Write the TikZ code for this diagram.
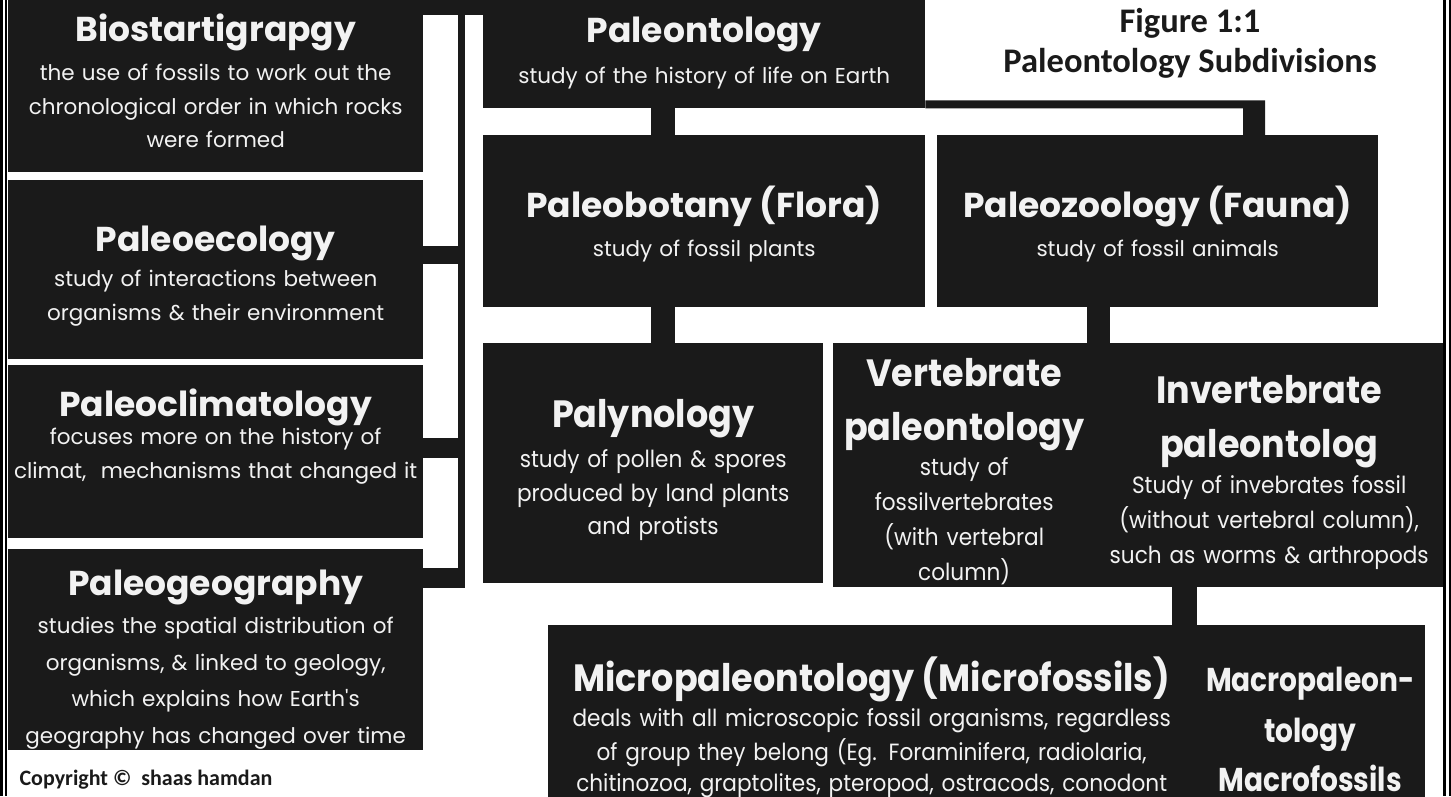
\documentclass[tikz,border=0pt]{standalone}
\usepackage{fontspec}
\newfontfamily\gothic{Poppins}
\newfontfamily\gothicnarrow[FakeStretch=0.92]{Poppins}
\newfontfamily\gothictight[FakeStretch=0.85]{Poppins}
\newfontfamily\calibri{Carlito}
\newcommand{\headfont}{\gothic\bfseries\fontsize{34.5}{38}\selectfont}
\newcommand{\bodyfont}{\gothic\fontsize{21.5}{33.5}\selectfont}
\newcommand{\narrowhead}{\gothicnarrow\bfseries\fontsize{38}{40}\selectfont}
\newcommand{\narrowbody}{\gothicnarrow\fontsize{23.5}{33.5}\selectfont}
\newcommand{\macrofont}{\gothictight\bfseries\fontsize{33}{38}\selectfont}
\definecolor{boxblack}{RGB}{26,26,26}
\definecolor{boxtext}{RGB}{242,242,242}

\begin{document}
\begin{tikzpicture}[x=1pt,y=-1pt,
        cell/.style={fill=boxblack,text=boxtext,align=center,anchor=north west,inner sep=0pt,font=\bodyfont},
        tall/.style={cell,font=\narrowbody},
        bar/.style={draw=boxblack}]
        \useasboundingbox (0,0) rectangle (1451,796);
        % left column
        \node[cell,text width=415,text height=41pt,text depth=131pt] (bio) at (8,0) {{\headfont Biostartigrapgy}\\[6pt]the use of fossils to work out the\\chronological order in which rocks\\were formed};
        \node[cell,text width=415,text height=71pt,text depth=108pt] (eco) at (8,180) {{\headfont Paleoecology}\\[2pt]study of interactions between\\organisms \& their environment};
        \node[cell,text width=415,text height=51pt,text depth=122pt] (clim) at (8,365) {{\headfont Paleoclimatology}\\[-5pt]focuses more on the history of\\climat,\ \ mechanisms that changed it};
        \node[cell,text width=415,text height=46pt,text depth=155pt] (geo) at (8,549) {{\headfont Paleogeography}\\[5pt]studies the spatial distribution of\\[3pt]organisms, \& linked to geology,\\[3pt]which explains how Earth's\\[3pt]geography has changed over time};
        % main tree
        \node[cell,text width=442,text height=42pt,text depth=66pt] (pal) at (483,0) {{\headfont Paleontology}\\[8pt]study of the history of life on Earth};
        \node[cell,text width=442,text height=82pt,text depth=90pt] (bot) at (483,135) {{\headfont Paleobotany (Flora)}\\[6pt]study of fossil plants};
        \node[cell,text width=441,text height=82pt,text depth=90pt] (zoo) at (937,135) {{\headfont Paleozoology (Fauna)}\\[6pt]study of fossil animals};
        \node[tall,text width=340,text height=84pt,text depth=156pt] (pyn) at (483,343) {{\narrowhead Palynology}\\[7pt]study of pollen \& spores\\produced by land plants\\and protists};
        \node[tall,text width=262,text height=43pt,text depth=201pt] (vert) at (833,343) {{\narrowhead Vertebrate\\[21pt]paleontology}\\[1pt]study of\\[1.5pt]fossilvertebrates\\[1.5pt](with vertebral\\[1.5pt]column)};
        \node[tall,text width=348,text height=60pt,text depth=184pt] (inv) at (1095,343) {{\narrowhead Invertebrate\\[21pt]paleontolog}\\[2pt]Study of invebrates fossil\\[1.5pt](without vertebral column),\\[1.5pt]such as worms \& arthropods};
        \node[tall,text width=647,text height=66pt,text depth=145pt] (micro) at (548,625) {{\narrowhead Micropaleontology (Microfossils)}\\[2pt]deals with all microscopic fossil organisms, regardless\\of group they belong (Eg. Foraminifera, radiolaria,\\[-2pt]chitinozoa, graptolites, pteropod, ostracods, conodont};
        \node[tall,text width=230,text height=66pt,text depth=145pt] (macro) at (1195,625) {{\macrofont Macropaleon-\\[13pt]tology\\[13pt]Macrofossils}};
        % titles
        \node[font=\calibri\bfseries\fontsize{34.5}{40}\selectfont,text=boxblack,align=center] (fig) at (1190,43) {Figure 1:1\\Paleontology Subdivisions};
        \node[font=\calibri\bfseries\fontsize{22}{24}\selectfont,text=boxblack] (copy) at (146,780) {Copyright ©\ \ shaas hamdan};
        % spine on the left
        \coordinate (spine) at (461.5,0);
        \path ([yshift=-39]geo.north -| spine) coordinate (spineend);
        \path ([yshift=-74.5]eco.north east) coordinate (ecolink);
        \path ([yshift=-83]clim.north east) coordinate (climlink);
        \path ([yshift=-29]geo.north east) coordinate (geolink);
        \draw[bar,line width=15] ([yshift=-7.5]bio.north east) -- ([yshift=-7.5]pal.north west);
        \draw[bar,line width=7] (spine) -- (spineend);
        \draw[bar,line width=18] (ecolink) -- (ecolink -| spine);
        \draw[bar,line width=20] (climlink) -- (climlink -| spine);
        \draw[bar,line width=20] (geolink) -- (geolink -| spine);
        % links of the tree
        \draw[bar,line width=24] ([xshift=-41]pal.south) -- ([xshift=-41]bot.north);
        \fill[boxblack] ([yshift=8]pal.south east) -| ([xshift=107.5]zoo.north) -| ([xshift=85.5]zoo.north) |- (pal.south east) -- cycle;
        \draw[bar,line width=24] ([xshift=-41]bot.south) -- ([xshift=10]pyn.north);
        \draw[bar,line width=23] ([xshift=-59]zoo.south) -- ([xshift=-170.5]inv.north);
        \draw[bar,line width=25] ([xshift=-84.5]inv.south) -- ([xshift=-125.5]macro.north);
        % frame
        \draw[black,line width=2.5] (1.25,0) -- (1.25,796);
        \draw[black,line width=2.5] (5.75,0) -- (5.75,796);
        \draw[black,line width=3] (1444.5,0) -- (1444.5,796);
        \draw[black,line width=2.5] (1449.75,0) -- (1449.75,796);
\end{tikzpicture}
\end{document}
